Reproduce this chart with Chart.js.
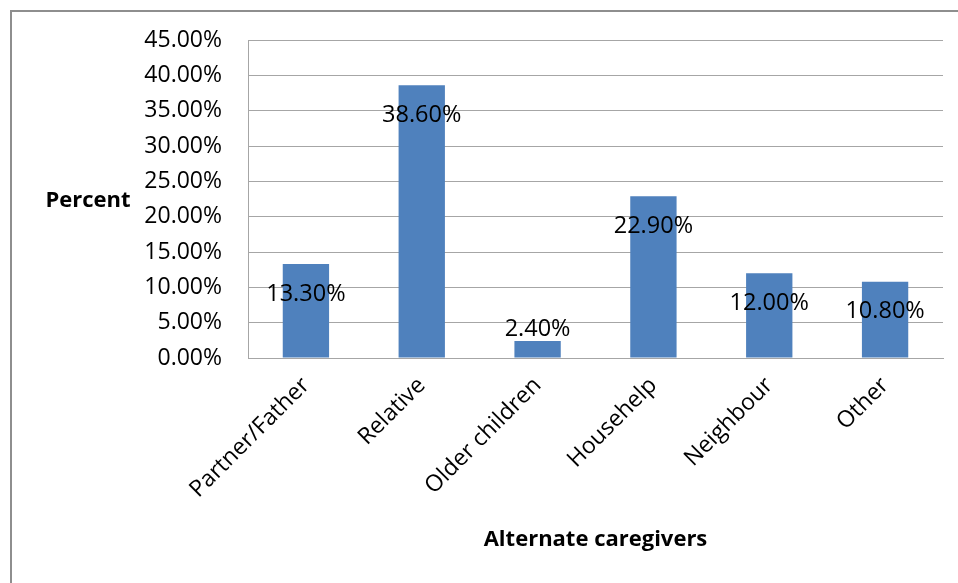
<!DOCTYPE html>
<html>
<head>
<meta charset="utf-8">
<script src="https://cdn.jsdelivr.net/npm/chart.js@4/dist/chart.umd.min.js"></script>
<style>
  html, body { margin: 0; padding: 0; background: #fff; overflow: hidden; }
  canvas { display: block; }
</style>
</head>
<body>
<canvas id="c" width="958" height="583"></canvas>
<script>
// Share of respondents by alternate caregiver
const categories = ['Partner/Father', 'Relative', 'Older children', 'Househelp', 'Neighbour', 'Other'];
const percentValues = [13.3, 38.6, 2.4, 22.9, 12.0, 10.8];
const yAxisTitle = 'Percent';
const xAxisTitle = 'Alternate caregivers';

const FONT = '"Open Sans", "Liberation Sans", sans-serif';
const BAR_BLUE = '#4F81BD';
const GRID_GRAY = '#a6a6a6';

const fmtPct = v => Number(v).toFixed(2) + '%';

// Frame, axis titles and value labels
const decorations = {
  id: 'decorations',
  beforeDraw(chart) {
    const ctx = chart.ctx;
    ctx.save();
    ctx.fillStyle = '#fff';
    ctx.fillRect(0, 0, chart.width, chart.height);
    ctx.strokeStyle = '#8e8e8e';
    ctx.lineWidth = 2;
    ctx.strokeRect(11, 11, chart.width + 40, chart.height + 40);
    ctx.restore();
  },
  afterDatasetsDraw(chart) {
    const ctx = chart.ctx;
    const area = chart.chartArea;
    const meta = chart.getDatasetMeta(0);
    ctx.save();
    ctx.font = '23.5px ' + FONT;
    ctx.fillStyle = '#000';
    ctx.textAlign = 'center';
    ctx.textBaseline = 'middle';
    meta.data.forEach((bar, i) => {
      const y = Math.min(bar.y + 30, bar.base - 28);
      ctx.fillText(fmtPct(percentValues[i]), bar.x, y);
    });
    ctx.font = 'bold 22px ' + FONT;
    ctx.fillText(yAxisTitle, 88, (area.top + area.bottom) / 2 + 2);
    ctx.fillText(xAxisTitle, (area.left + area.right) / 2, area.bottom + 182);
    ctx.restore();
  }
};

new Chart(document.getElementById('c'), {
  type: 'bar',
  data: {
    labels: categories,
    datasets: [{
      data: percentValues,
      backgroundColor: BAR_BLUE,
      borderWidth: 0,
      barPercentage: 0.4,
      categoryPercentage: 1.0
    }]
  },
  options: {
    responsive: false,
    animation: false,
    devicePixelRatio: 1,
    layout: { padding: { top: 40, right: 15, left: 0, bottom: 0 } },
    plugins: {
      legend: { display: false },
      tooltip: { enabled: false },
      title: { display: false }
    },
    scales: {
      x: {
        grid: { display: false, drawTicks: false },
        border: { display: true, color: GRID_GRAY, width: 1 },
        ticks: {
          autoSkip: false,
          minRotation: 45,
          maxRotation: 45,
          padding: 14,
          color: '#000',
          font: { family: FONT, size: 23 }
        },
        afterFit(scale) { scale.height = 225; }
      },
      y: {
        min: 0,
        max: 45,
        grid: { color: GRID_GRAY, lineWidth: 1, drawTicks: false },
        border: { display: true, color: GRID_GRAY, width: 1 },
        ticks: {
          stepSize: 5,
          padding: 26,
          color: '#000',
          font: { family: FONT, size: 23 },
          callback: v => fmtPct(v)
        },
        afterFit(scale) { scale.width = 248; }
      }
    }
  },
  plugins: [decorations]
});
</script>
</body>
</html>
